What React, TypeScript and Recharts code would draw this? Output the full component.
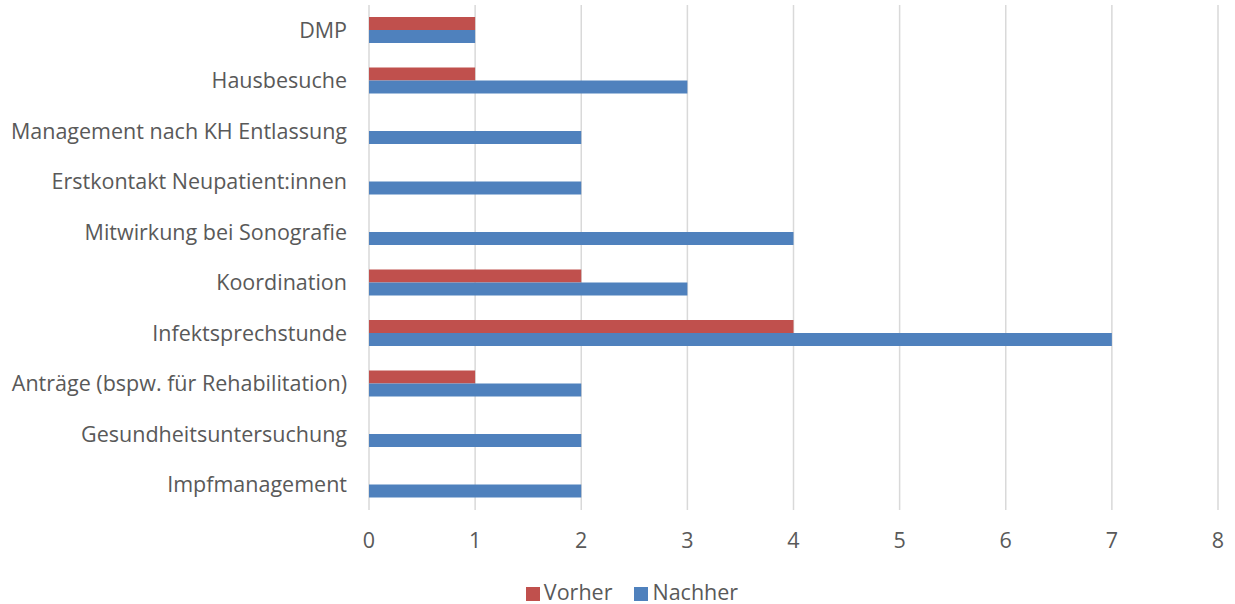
import { BarChart, Bar, XAxis, YAxis, CartesianGrid, Legend } from "recharts";

const categories = [
  "DMP",
  "Hausbesuche",
  "Management nach KH Entlassung",
  "Erstkontakt Neupatient:innen",
  "Mitwirkung bei Sonografie",
  "Koordination",
  "Infektsprechstunde",
  "Anträge (bspw. für Rehabilitation)",
  "Gesundheitsuntersuchung",
  "Impfmanagement",
];
const vorher = [1, 1, 0, 0, 0, 2, 4, 1, 0, 0];
const nachher = [1, 3, 2, 2, 4, 3, 7, 2, 2, 2];
const xTicks = [0, 1, 2, 3, 4, 5, 6, 7, 8];
const seriesOrder = ["Vorher", "Nachher"];

const data = categories.map((name, i) => ({ name, Vorher: vorher[i], Nachher: nachher[i] }));

const font = "'Open Sans', sans-serif";
const textColor = "#595959";

export default function App() {
  return (
    <div style={{ fontFamily: font }}>
      <style>{"body{margin:0}"}</style>
      <BarChart
        width={1235}
        height={604}
        data={data}
        layout="vertical"
        margin={{ top: 5, right: 17, left: 0, bottom: 0 }}
        barGap={0}
        barSize={13}
      >
        <CartesianGrid horizontal={false} vertical={true} stroke="#d9d9d9" strokeWidth={1.5} />
        <XAxis
          type="number"
          domain={[0, 8]}
          ticks={xTicks}
          axisLine={false}
          tickLine={false}
          height={70}
          tickMargin={17}
          tick={{ fill: textColor, fontSize: 21.5, fontFamily: font }}
        />
        <YAxis
          type="category"
          dataKey="name"
          width={369}
          axisLine={false}
          tickLine={false}
          tickMargin={16}
          interval={0}
          tick={{ fill: textColor, fontSize: 21.5, fontFamily: font }}
        />
        <Legend
          verticalAlign="bottom"
          iconType="square"
          iconSize={14}
          itemSorter={(item: any) => seriesOrder.indexOf(item.dataKey)}
          wrapperStyle={{ fontSize: 21.5, lineHeight: "24px", color: textColor, fontFamily: font, paddingLeft: 28 }}
          formatter={(v) => (
            <span style={{ color: textColor, marginRight: v === "Vorher" ? 12 : 0 }}>{v}</span>
          )}
        />
        <Bar dataKey="Vorher" fill="#C0504D" isAnimationActive={false} />
        <Bar dataKey="Nachher" fill="#4F81BD" isAnimationActive={false} />
      </BarChart>
    </div>
  );
}
